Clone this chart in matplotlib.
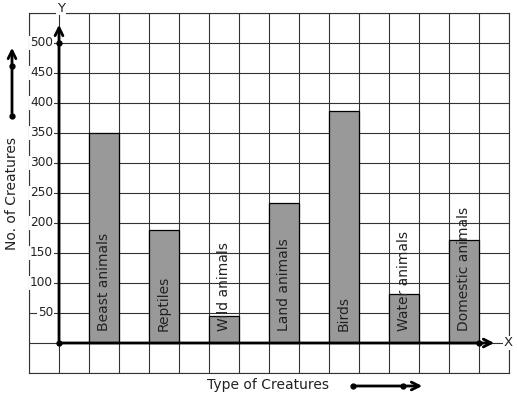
import numpy as np
import matplotlib
matplotlib.use('Agg')
import matplotlib.pyplot as plt

# data
creatures = ['Beast animals', 'Reptiles', 'Wild animals', 'Land animals',
             'Birds', 'Water animals', 'Domestic animals']
counts = [350, 188, 45, 233, 387, 81, 171]
yticks = [50, 100, 150, 200, 250, 300, 350, 400, 450, 500]

W, H = 517, 399
fig = plt.figure(figsize=(W / 100, H / 100), dpi=100)
ax = fig.add_axes([29 / W, 26 / H, 480 / W, 360 / H])
ax.set_xlim(-1, 15)
ax.set_ylim(-50, 550)

gc = '#333333'
ax.set_xticks(np.arange(-1, 16))
ax.set_yticks(np.arange(-50, 551, 50))
ax.grid(True, color=gc, lw=0.8)
ax.set_axisbelow(True)
ax.tick_params(length=0, labelbottom=False, labelleft=False)
for s in ax.spines.values():
    s.set_color(gc)
    s.set_linewidth(0.8)

# bars
xpos = [2 * i + 1 for i in range(len(creatures))]
ax.bar(xpos, counts, width=1, align='edge', color='#999999',
       edgecolor='black', lw=0.9, zorder=2)
for x, name in zip(xpos, creatures):
    ax.text(x + 0.5, 20, name, rotation=90, ha='center', va='bottom',
            fontsize=10, color='#222222', zorder=4)

# axes with arrows
ax.annotate('', xy=(0, 535), xytext=(0, 0),
            arrowprops=dict(arrowstyle='->', lw=2, color='black',
                            mutation_scale=14), zorder=5)
ax.annotate('', xy=(14.6, 0), xytext=(0, 0),
            arrowprops=dict(arrowstyle='->', lw=2, color='black',
                            mutation_scale=14), zorder=5)
ax.plot([0, 0, 14], [500, 0, 0], 'o', color='black', ms=3.5, zorder=6,
        clip_on=False)

# tick labels
for v in yticks:
    ax.text(-0.2, v, str(v), ha='right', va='center', fontsize=8.7,
            color='#222222', zorder=4,
            bbox=dict(facecolor='white', edgecolor='none', pad=0.5))
ax.text(0.07, 558, 'Y', ha='center', va='center', fontsize=9.5,
        color='#222222', clip_on=False,
        bbox=dict(facecolor='white', edgecolor='none', pad=0.5))
ax.text(14.97, 0, 'X', ha='center', va='center', fontsize=9.5,
        color='#222222', clip_on=False, zorder=6,
        bbox=dict(facecolor='white', edgecolor='none', pad=0.5))

# axis titles
fig.text(12 / W, 206 / H, 'No. of Creatures', rotation=90, ha='center',
         va='center', fontsize=10, color='#222222')
fig.text(268 / W, 14 / H, 'Type of Creatures', ha='center', va='center',
         fontsize=10, color='#222222')

# little arrows next to the titles
fig.patches.append(matplotlib.patches.FancyArrowPatch(
    (12, 283), (12, 354), transform=None, arrowstyle='->', lw=2,
    color='black', mutation_scale=14))
fig.patches.append(matplotlib.patches.FancyArrowPatch(
    (353, 13), (425, 13), transform=None, arrowstyle='->', lw=2,
    color='black', mutation_scale=14))
fig.lines.append(matplotlib.lines.Line2D([12, 12, 353, 403],
                                         [283, 333, 13, 13],
                                         transform=None, ls='none',
                                         marker='o', ms=3.5, color='black'))

fig.savefig('out.png', dpi=100)
